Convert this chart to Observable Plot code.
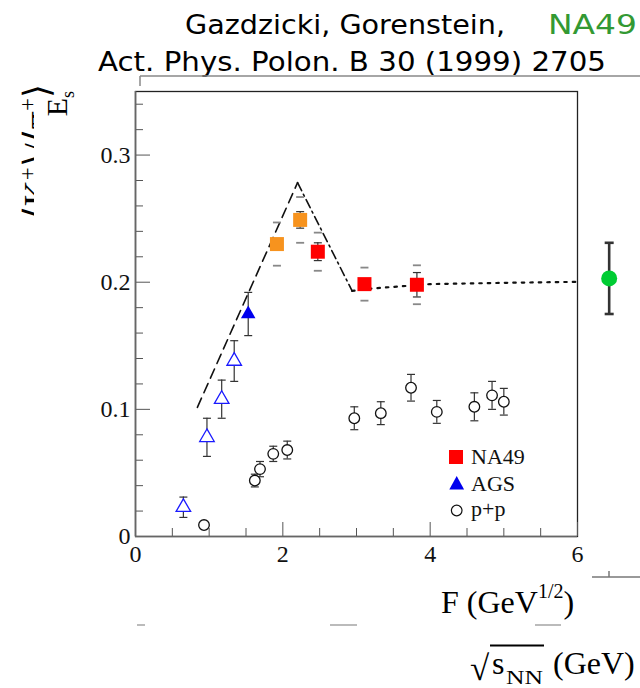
<!DOCTYPE html>
<html>
<head>
<meta charset="utf-8">
<script src="https://cdn.jsdelivr.net/npm/d3@7"></script>
<script src="https://cdn.jsdelivr.net/npm/@observablehq/plot@0.6"></script>
<style>
  html, body { margin: 0; padding: 0; background: #fff; }
  #wrap { position: relative; width: 640px; height: 688px; overflow: hidden; background: #fff; }
  #chart { position: absolute; left: 0; top: 0; }
  #overlay { position: absolute; left: 0; top: 0; pointer-events: none; }
</style>
</head>
<body>
<div id="wrap">
  <div id="chart"></div>
  <svg id="overlay" width="640" height="688" xmlns="http://www.w3.org/2000/svg"></svg>
</div>
<script>
// ---------------- data ----------------
// p+p (open circles)
const ppF   = [0.93, 1.62, 1.69, 1.87, 2.06, 2.97, 3.33, 3.74, 4.09, 4.60, 4.84, 5.00];
const ppE   = [0.009, 0.044, 0.053, 0.065, 0.068, 0.093, 0.097, 0.117, 0.098, 0.102, 0.111, 0.106];
const ppErr = [0, 0.005, 0.006, 0.006, 0.007, 0.009, 0.009, 0.0105, 0.009, 0.011, 0.011, 0.0105];

// AGS (open triangles)
const agsOpenF   = [0.65, 0.97, 1.17, 1.34];
const agsOpenE   = [0.023, 0.078, 0.108, 0.138];
const agsOpenErr = [0.008, 0.015, 0.015, 0.016];

// AGS (filled triangle)
const agsF   = [1.53];
const agsE   = [0.175];
const agsErr = [0.017];

// NA49 orange squares
const orangeF    = [1.92, 2.235];
const orangeE    = [0.230, 0.249];
const orangeStat = [0, 0.0065];
const orangeSys  = [0.017, 0.018];

// NA49 red squares
const redF    = [2.475, 3.108, 3.82];
const redE    = [0.224, 0.1985, 0.198];
const redStat = [0.007, 0, 0.0096];
const redSys  = [0.015, 0.013, 0.0153];

// green point (right edge)
const greenF   = [6.43];
const greenE   = [0.203];
const greenErr = [0.028];

// model curves
const dashF = [0.84, 2.20];
const dashE = [0.1016, 0.2783];
const dashDotF = [2.20, 2.94];
const dashDotE = [0.2783, 0.1932];
const dotF = [2.94, 3.2, 4.0, 5.0, 6.0];
const dotE = [0.1932, 0.195, 0.1985, 0.1995, 0.2003];

// axes
const xMajorTicks = [0, 2, 4, 6];
const xMinorTicks = [0.5, 1, 1.5, 2.5, 3, 3.5, 4.5, 5, 5.5];
const yMajorTicks = [0, 0.1, 0.2, 0.3];
const yMinorTicks = [0.02, 0.04, 0.06, 0.08, 0.12, 0.14, 0.16, 0.18, 0.22, 0.24, 0.26, 0.28, 0.32, 0.34];
const yTickLabels = ["0", "0.1", "0.2", "0.3"];
const xTickLabels = ["0", "2", "4", "6"];

// ---------------- helpers ----------------
const serif = "'Liberation Serif','Times New Roman',serif";
const rows = (F, E, err) => F.map((f, i) => ({F: f, E: E[i], err: err ? err[i] : 0}));
const capSym = {
  draw(ctx, size) {
    const w = Math.sqrt(size / Math.PI);
    ctx.moveTo(-w, 0); ctx.lineTo(w, 0);
  }
};
function errorBars(data, {stroke = "#333", strokeWidth = 1.2, capR = 4, capWidth = strokeWidth, vertical = true} = {}) {
  const d = data.filter(p => p.err > 0);
  const caps = d.flatMap(p => [{F: p.F, v: p.E + p.err}, {F: p.F, v: p.E - p.err}]);
  const marks = [];
  if (vertical) marks.push(Plot.ruleX(d, {x: "F", y1: p => p.E - p.err, y2: p => p.E + p.err, stroke, strokeWidth}));
  marks.push(Plot.dot(caps, {x: "F", y: "v", symbol: capSym, r: capR, stroke, strokeWidth: capWidth, fill: "none"}));
  return marks;
}

const pp = rows(ppF, ppE, ppErr);
const agsOpen = rows(agsOpenF, agsOpenE, agsOpenErr);
const ags = rows(agsF, agsE, agsErr);
const orangeStatR = rows(orangeF, orangeE, orangeStat);
const orangeSysR = rows(orangeF, orangeE, orangeSys);
const redStatR = rows(redF, redE, redStat);
const redSysR = rows(redF, redE, redSys);
const green = rows(greenF, greenE, greenErr);
const line = (F, E) => F.map((f, i) => ({F: f, E: E[i]}));

const plot = Plot.plot({
  width: 640,
  height: 688,
  marginLeft: 135,
  marginRight: 63,
  marginTop: 91,
  marginBottom: 152,
  style: {fontFamily: serif, fontSize: "24px", background: "transparent", overflow: "visible", color: "#111"},
  x: {domain: [0, 6], label: null},
  y: {domain: [0, 0.35], label: null},
  marks: [
    Plot.frame({stroke: "#222", strokeWidth: 1.3}),
    // axes (gray lines + inward ticks)
    Plot.axisY(yMinorTicks, {anchor: "left", tickSize: -8, tickPadding: 0, tickFormat: () => "", stroke: "#555", label: null}),
    Plot.axisY(yMajorTicks, {anchor: "left", tickSize: -15, tickPadding: 20, tickFormat: d => yTickLabels[yMajorTicks.indexOf(d)], stroke: "#555", fill: "#111", fontSize: 24, label: null}),
    Plot.axisX(xMinorTicks, {anchor: "bottom", tickSize: -8, tickPadding: 0, tickFormat: () => "", stroke: "#555", label: null}),
    Plot.axisX(xMajorTicks, {anchor: "bottom", tickSize: -14, tickPadding: 22, tickFormat: d => xTickLabels[xMajorTicks.indexOf(d)], stroke: "#555", fill: "#111", fontSize: 24, label: null}),
    Plot.ruleX([0], {stroke: "#666", strokeWidth: 1.6}),
    Plot.ruleY([0], {stroke: "#666", strokeWidth: 1.6}),
    // model lines
    Plot.line(line(dashF, dashE), {x: "F", y: "E", stroke: "#111", strokeWidth: 1.6, strokeDasharray: "10,6"}),
    Plot.line(line(dashDotF, dashDotE), {x: "F", y: "E", stroke: "#111", strokeWidth: 1.6, strokeDasharray: "9,4,2,4"}),
    Plot.line(line(dotF, dotE), {x: "F", y: "E", stroke: "#111", strokeWidth: 2.2, strokeDasharray: "2.5,6"}),
    // error bars
    ...errorBars(pp, {stroke: "#333", capR: 4}),
    ...errorBars(agsOpen, {stroke: "#333", capR: 4}),
    ...errorBars(ags, {stroke: "#333", capR: 4}),
    ...errorBars(orangeSysR, {stroke: "#888", capR: 4, vertical: false, capWidth: 1.8}),
    ...errorBars(redSysR, {stroke: "#888", capR: 4, vertical: false, capWidth: 1.8}),
    ...errorBars(orangeStatR, {stroke: "#333", capR: 4}),
    ...errorBars(redStatR, {stroke: "#333", capR: 4}),
    ...errorBars(green, {stroke: "#333", strokeWidth: 2.6, capR: 4.5}),
    // markers
    Plot.dot(pp, {x: "F", y: "E", r: 5.3, stroke: "#111", strokeWidth: 1.3, fill: "white"}),
    Plot.dot(agsOpen, {x: "F", y: "E", symbol: "triangle", r: 5.4, stroke: "#1a1aff", strokeWidth: 1.3, fill: "white"}),
    Plot.dot(ags, {x: "F", y: "E", symbol: "triangle", r: 5.4, fill: "#0000ee", stroke: "none"}),
    Plot.dot(orangeStatR, {x: "F", y: "E", symbol: "square", r: 7.9, fill: "#f7931e", stroke: "none"}),
    Plot.dot(redStatR, {x: "F", y: "E", symbol: "square", r: 7.9, fill: "#ff0000", stroke: "none"}),
    Plot.dot(green, {x: "F", y: "E", r: 8, fill: "#00cc33", stroke: "none"})
  ]
});
document.getElementById("chart").appendChild(plot);

// ---------------- titles, labels, legend (overlay) ----------------
const svgNS = "http://www.w3.org/2000/svg";
const ov = document.getElementById("overlay");
function el(tag, attrs, text) {
  const e = document.createElementNS(svgNS, tag);
  for (const k in attrs) e.setAttribute(k, attrs[k]);
  if (text != null) e.textContent = text;
  ov.appendChild(e);
  return e;
}
const comic = "'Comic Sans MS','DejaVu Sans',sans-serif";

// title
el("text", {x: 185, y: 34, "font-family": comic, "font-size": 26, fill: "#000", textLength: 320, lengthAdjust: "spacingAndGlyphs"}, "Gazdzicki, Gorenstein,");
el("text", {x: 548, y: 34, "font-family": comic, "font-size": 26, fill: "#339933", textLength: 89, lengthAdjust: "spacingAndGlyphs"}, "NA49");
el("text", {x: 98, y: 71, "font-family": comic, "font-size": 26, fill: "#000", textLength: 508, lengthAdjust: "spacingAndGlyphs"}, "Act. Phys. Polon. B 30 (1999) 2705");

// remnants of a neighbouring frame
el("line", {x1: 140, y1: 76, x2: 640, y2: 76, stroke: "#888", "stroke-width": 1.5});
el("line", {x1: 140, y1: 76, x2: 140, y2: 86, stroke: "#888", "stroke-width": 1.5});
el("line", {x1: 592, y1: 577, x2: 640, y2: 577, stroke: "#777", "stroke-width": 1.5});
el("line", {x1: 609, y1: 571, x2: 609, y2: 577, stroke: "#777", "stroke-width": 1.5});
el("line", {x1: 137, y1: 625, x2: 145, y2: 625, stroke: "#aaa", "stroke-width": 1.6});
el("line", {x1: 330, y1: 625, x2: 357, y2: 625, stroke: "#aaa", "stroke-width": 1.6});
el("line", {x1: 535, y1: 625, x2: 561, y2: 625, stroke: "#aaa", "stroke-width": 1.6});

// y label (partly hidden) + E_s
const yl = el("text", {transform: "translate(49,84) rotate(-90)", "text-anchor": "end", "font-family": serif, "font-size": 36, fill: "#000"});
yl.innerHTML = '⟨K<tspan font-size="23" dy="-14">+</tspan><tspan dy="14">⟩/⟨π</tspan><tspan font-size="23" dy="-14">+</tspan><tspan dy="14">⟩</tspan>';
el("rect", {x: 34, y: 97, width: 50, height: 150, fill: "#fff"});
const es = el("text", {transform: "translate(67,91) rotate(-90)", "text-anchor": "end", "font-family": serif, "font-size": 30, fill: "#000"});
es.innerHTML = 'E<tspan font-size="18" dy="7">s</tspan>';

// x axis title
const xt = el("text", {x: 441, y: 613, "font-family": serif, "font-size": 32, fill: "#000"});
xt.innerHTML = 'F (GeV<tspan font-size="20" dy="-15">1/2</tspan><tspan dy="15">)</tspan>';

// sqrt(s_NN) (GeV)
el("text", {x: 470, y: 680, "font-family": serif, "font-size": 35, fill: "#000"}, "√");
el("line", {x1: 490, y1: 645.5, x2: 544, y2: 645.5, stroke: "#000", "stroke-width": 1.8});
el("text", {x: 492, y: 674, "font-family": serif, "font-size": 32, fill: "#000"}, "s");
el("text", {x: 506, y: 684, "font-family": serif, "font-size": 19, fill: "#000", textLength: 37, lengthAdjust: "spacingAndGlyphs"}, "NN");
el("text", {x: 553, y: 674, "font-family": serif, "font-size": 32, fill: "#000"}, "(GeV)");

// legend
el("rect", {x: 449, y: 450, width: 14, height: 14, fill: "#ff0000"});
el("text", {x: 471, y: 463.5, "font-family": serif, "font-size": 22, fill: "#111"}, "NA49");
el("polygon", {points: "456.7,476 449.3,489.5 464.1,489.5", fill: "#0000ee"});
el("text", {x: 471, y: 490.5, "font-family": serif, "font-size": 22, fill: "#111"}, "AGS");
el("circle", {cx: 456.7, cy: 510.5, r: 5.3, fill: "none", stroke: "#111", "stroke-width": 1.2});
el("text", {x: 471, y: 515.5, "font-family": serif, "font-size": 22, fill: "#111"}, "p+p");
</script>
</body>
</html>
